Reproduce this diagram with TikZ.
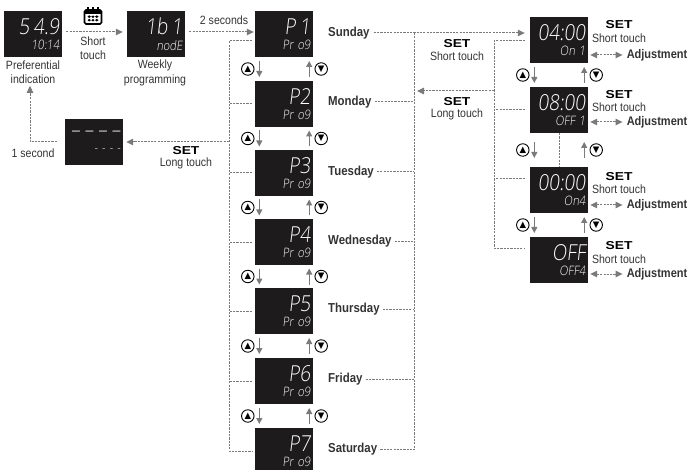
\documentclass[tikz,border=0pt]{standalone}
\usepackage{fontspec}
\setmainfont{Liberation Sans}[FakeStretch=0.88]
\newfontfamily\lcdfont{Open Sans Light}[FakeSlant=0.12,FakeStretch=0.86]
\newfontfamily\setfont{Liberation Sans}[FakeStretch=1.2,BoldFont={Liberation Sans Bold}]
\newfontfamily\symfont{DejaVu Sans}
\usetikzlibrary{arrows.meta,positioning,calc}
\definecolor{LineGray}{HTML}{7A7A7A}
\definecolor{TextGray}{HTML}{333333}
\definecolor{PanelBg}{HTML}{1E1B1C}
\newcommand{\lcd}[2]{{\lcdfont\fontsize{22}{23}\selectfont #1}\\[1pt]{\lcdfont\fontsize{13}{14}\selectfont #2}}
\newcommand{\keypair}[2]{%
  \node[key] (#1up) at ($(#1.south west)!0.5!(#2.north west)+(-7,0)$) {\symfont▲};
  \node[key] (#1dn) at ($(#1.south east)!0.5!(#2.north east)+(8,0)$) {\symfont▼};
  \draw[keyfl] ($(#1up)+(11.5,-8)$) -- ($(#1up)+(11.5,8)$);
  \draw[keyfl] ($(#1dn)+(-12,8)$) -- ($(#1dn)+(-12,-8)$);
}
\begin{document}
\begin{tikzpicture}[
  x=1pt,y=-1pt,
  font=\fontsize{12}{14.5}\selectfont,
  panel/.style={fill=PanelBg,text=white,minimum width=58pt,minimum height=46pt,
                text width=53pt,inner sep=0pt,align=right},
  txt/.style={text=TextGray,inner sep=0pt,align=center},
  day/.style={text=TextGray,inner sep=0pt,anchor=west,font=\fontsize{13}{14}\selectfont\bfseries},
  settxt/.style={text=black,inner sep=0pt,font=\setfont\fontsize{11.5}{12}\selectfont\bfseries},
  adj/.style={text=TextGray,inner sep=0pt,font=\fontsize{12.5}{14}\selectfont\bfseries},
  key/.style={draw=black,circle,line width=0.9pt,inner sep=0pt,minimum size=12.5pt,
              font=\fontsize{8.5}{8.5}\selectfont},
  gl/.style={LineGray,line width=1pt,dash pattern=on 2.2pt off 1.1pt},
  fl/.style={gl,-{Triangle[length=7pt,width=6.5pt]}},
  fll/.style={gl,{Triangle[length=7pt,width=6.5pt]}-{Triangle[length=7pt,width=6.5pt]}},
  keyfl/.style={-{Triangle[length=6pt,width=6pt]},line width=1.2pt,LineGray}
]
\useasboundingbox (0,0) rectangle (687,470);
\node[panel] (pref) at (33,34) {\lcd{5 4.9}{10:14}};
\node[panel] (week) at (156,34) {\lcd{1b 1}{nodE}};
\node[panel] (wait) at (94,142) {\lcd{– – – –}{- - - -}};
\node[panel] (p1) at (284,34) {\lcd{P 1}{Pr o9}};
\node[panel] (p2) at (284,104) {\lcd{P2}{Pr o9}};
\node[panel] (p3) at (284,173) {\lcd{P3}{Pr o9}};
\node[panel] (p4) at (284,242) {\lcd{P4}{Pr o9}};
\node[panel] (p5) at (284,311) {\lcd{P5}{Pr o9}};
\node[panel] (p6) at (284,381) {\lcd{P6}{Pr o9}};
\node[panel] (p7) at (284,451) {\lcd{P7}{Pr o9}};
\node[panel] (t1) at (559,40) {\lcd{04:00}{On 1}};
\node[panel] (t2) at (559,110) {\lcd{08:00}{OFF 1}};
\node[panel] (t3) at (559,190) {\lcd{00:00}{On4}};
\node[panel] (t4) at (559,260) {\lcd{OFF}{OFF4}};
% calendar key
\node[draw=black,fill=white,line width=1.6pt,rounded corners=1.5pt,minimum width=17pt,
      minimum height=14pt,inner sep=0pt,
      path picture={\fill[black] (-9,-8) rectangle (9,-3);
        \fill[black] (-5.5,-1.5) rectangle (-2,1) (-1.7,-1.5) rectangle (1.7,1) (2,-1.5) rectangle (5.5,1)
                     (-5.5,2) rectangle (-2,4.5) (-1.7,2) rectangle (1.7,4.5) (2,2) rectangle (5.5,4.5);}] (cal) at (93,17) {};
\draw[line width=1.4pt] ([xshift=-5pt]cal.north) -- ++(0,-2);
\draw[line width=1.4pt] (cal.north) -- ++(0,-2);
\draw[line width=1.4pt] ([xshift=5pt]cal.north) -- ++(0,-2);
\node[txt] (short) at (93,48) {Short\\touch};
\node[txt] (preflbl) at (33,72) {Preferential\\indication};
\node[txt] (weeklbl) at (155,73) {Weekly\\programming};
\node[txt] (twosec) at (224,20) {2 seconds};
\node[txt] (onesec) at (33,153) {1 second};
\node[settxt] (set0) at (186,151) {SET};
\node[txt] (long0) at (186,163) {Long touch};
\node[day] (sun) at (328,33) {Sunday};
\node[day] (mon) at (328,102) {Monday};
\node[day] (tue) at (328,172) {Tuesday};
\node[day] (wed) at (328,241) {Wednesday};
\node[day] (thu) at (328,309) {Thursday};
\node[day] (fri) at (328,379) {Friday};
\node[day] (sat) at (328,449) {Saturday};
\node[settxt] (set1) at (457,44) {SET};
\node[txt] (short1) at (457,56) {Short touch};
\node[settxt] (set2) at (457,102) {SET};
\node[txt] (long2) at (457,114) {Long touch};
\node[settxt] (sa) at (619,25) {SET};
\node[txt] (sta) at (619,38) {Short touch};
\node[adj] (ada) at (657,55) {Adjustment};
\node[settxt] (sb) at (619,95) {SET};
\node[txt] (stb) at (619,107) {Short touch};
\node[adj] (adb) at (657,122) {Adjustment};
\node[settxt] (sc) at (619,177) {SET};
\node[txt] (stc) at (619,189) {Short touch};
\node[adj] (adc) at (657,205) {Adjustment};
\node[settxt] (sd) at (619,246) {SET};
\node[txt] (std) at (619,259) {Short touch};
\node[adj] (add) at (657,274) {Adjustment};
\keypair{p1}{p2}
\keypair{p2}{p3}
\keypair{p3}{p4}
\keypair{p4}{p5}
\keypair{p5}{p6}
\keypair{p6}{p7}
\keypair{t1}{t2}
\keypair{t2}{t3}
\keypair{t3}{t4}
\coordinate (busl) at (229,41);
\coordinate (busr) at (414,33);
\coordinate (bust) at (494,41);
\draw[fl] ([xshift=4pt,yshift=2pt]pref.east) -- ([xshift=-4pt,yshift=2pt]week.west);
\draw[fl] ([xshift=4pt,yshift=2pt]week.east) -- ([xshift=-1pt,yshift=2pt]p1.west);
\draw[gl] ([xshift=-3pt]p1.west |- busl) -- (busl) -- (p7.west -| busl) -- ([xshift=-3pt]p7.west);
\draw[gl] ([xshift=-3pt]p2.west) -- (p2.west -| busl);
\draw[gl] ([xshift=-3pt]p3.west) -- (p3.west -| busl);
\draw[gl] ([xshift=-3pt]p4.west) -- (p4.west -| busl);
\draw[gl] ([xshift=-3pt]p5.west) -- (p5.west -| busl);
\draw[gl] ([xshift=-3pt]p6.west) -- (p6.west -| busl);
\draw[fl] (wait.east -| busl) -- ([xshift=3pt]wait.east);
\draw[fl] ([xshift=-8pt]wait.west) -| ([xshift=-3pt,yshift=-2pt]preflbl.south);
\draw[fl] ([xshift=4pt]sun.east) -- ([xshift=-5pt]t1.west |- sun.east);
\draw[gl] (busr) -- (sat.east -| busr);
\draw[gl] ([xshift=3pt]mon.east) -- (mon.east -| busr);
\draw[gl] ([xshift=3pt]tue.east) -- (tue.east -| busr);
\draw[gl] ([xshift=3pt]wed.east) -- (wed.east -| busr);
\draw[gl] ([xshift=3pt]thu.east) -- (thu.east -| busr);
\draw[gl] ([xshift=3pt]fri.east) -- (fri.east -| busr);
\draw[gl] ([xshift=3pt]sat.east) -- (sat.east -| busr);
\draw[gl] ([xshift=-5pt]t1.west |- bust) -- (bust) -- ([yshift=12pt]t4.west -| bust) -- ([xshift=-5pt,yshift=12pt]t4.west);
\draw[gl] ([xshift=-5pt]t2.west) -- (t2.west -| bust);
\draw[gl] ([xshift=-5pt,yshift=11pt]t3.west) -- ([yshift=11pt]t3.west -| bust);
\draw[fl] ($(bust)+(0,50)$) -- ($(busr)+(3,58)$);
\draw[gl] (t2.south) -- (t3.north);
\draw[fll] ([xshift=2pt]t1.east |- ada.west) -- ([xshift=-4pt]ada.west);
\draw[fll] ([xshift=2pt]t2.east |- adb.west) -- ([xshift=-4pt]adb.west);
\draw[fll] ([xshift=2pt]t3.east |- adc.west) -- ([xshift=-4pt]adc.west);
\draw[fll] ([xshift=2pt]t4.east |- add.west) -- ([xshift=-4pt]add.west);
\end{tikzpicture}
\end{document}
